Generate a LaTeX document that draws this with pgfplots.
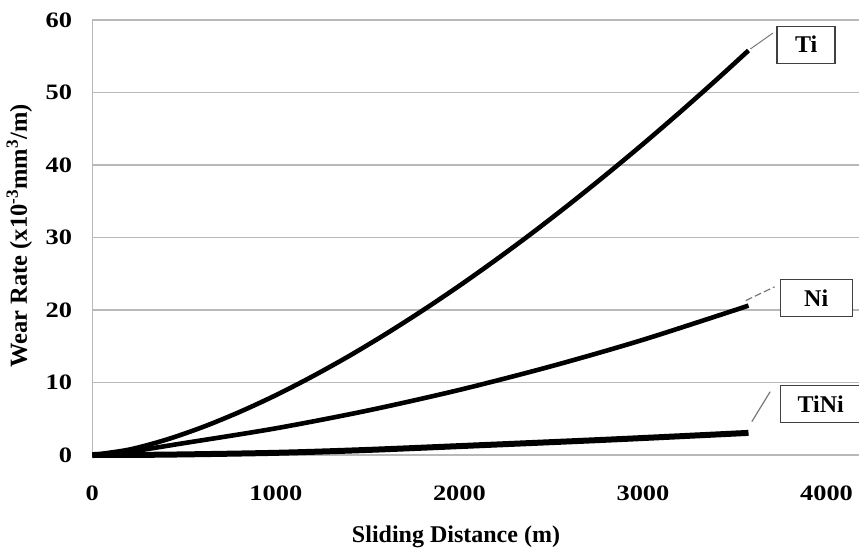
\documentclass[border=0pt]{standalone}
\usepackage{pgfplots}
\pgfplotsset{compat=1.18}
\usepackage{fontspec}
\setmainfont{Liberation Serif}
\newfontfamily\widefont{Liberation Serif}[FakeStretch=1.2]

\definecolor{gridgray}{RGB}{185,185,185}
\definecolor{leadgray}{RGB}{120,120,120}

% Cumulative wear rate against sliding distance
\pgfplotstableread{
x     y
0     0
200   0.74
400   2.09
600   3.84
800   5.91
1000  8.25
1200  10.85
1400  13.67
1600  16.71
1800  19.94
2000  23.35
2200  26.94
2400  30.69
2600  34.61
2800  38.68
3000  42.89
3200  47.25
3400  51.75
3575  55.8
}\tiTable

\pgfplotstableread{
x     y
0     0
200   0.45
500   1.64
1000  3.68
1500  6.13
2000  8.98
2500  12.24
3000  15.89
3575  20.6
}\niTable

\pgfplotstableread{
x     y
0     0
400   0.05
1000  0.3
1500  0.7
2113  1.35
2838  2.15
3575  3.05
}\tiniTable

\begin{document}
\begin{tikzpicture}
\path[use as bounding box, clip] (-92.3pt,-97pt) rectangle (766.7pt,455pt);
\begin{axis}[
  at={(0pt,0pt)}, anchor=south west,
  scale only axis,
  width=766.7pt, height=435pt,
  xmin=0, xmax=4177, ymin=0, ymax=60,
  xtick={0,1000,2000,3000,4000},
  ytick={0,10,20,30,40,50,60},
  axis x line*=bottom, axis y line*=left,
  axis line style={-, draw=gridgray, line width=1.4pt},
  ymajorgrids,
  grid style={draw=gridgray, line width=1.4pt},
  major tick length=0pt,
  tick style={draw=none},
  /pgf/number format/assume math mode=true,
  /pgf/number format/1000 sep={},
  xticklabel style={font=\widefont\bfseries\fontsize{22}{22}\selectfont, anchor=north, inner sep=0pt, yshift=-31pt},
  yticklabel style={font=\widefont\bfseries\fontsize{22}{22}\selectfont, anchor=east, inner sep=0pt, xshift=-20pt},
  clip=false,
]
\addplot[black, line width=4.6pt, smooth] table[x=x, y=y] {\tiTable};
\addplot[black, line width=4.6pt, smooth] table[x=x, y=y] {\niTable};
\addplot[black, line width=6pt, smooth] table[x=x, y=y] {\tiniTable};

% leader lines from curve ends to the labels
\draw[leadgray, line width=1pt] (axis cs:3585,56.0) -- (axis cs:3708,58.2);
\draw[leadgray, line width=1.2pt, dash pattern=on 7pt off 3pt] (axis cs:3560,21.3) -- (axis cs:3717,23.2);
\draw[leadgray, line width=1.2pt] (axis cs:3593,4.6) -- (axis cs:3693,8.73);

\tikzset{lbl/.style={draw=black!75, line width=1.3pt, fill=white, inner sep=0pt,
  minimum height=37pt, font=\bfseries\fontsize{24}{24}\selectfont}}
\node[lbl, minimum width=58pt] at (axis cs:3889,56.6) {Ti};
\node[lbl, minimum width=72pt] at (axis cs:3944,21.7) {Ni};
\node[lbl, minimum width=80pt, anchor=west] at (axis cs:3747,7.0) {TiNi};
\end{axis}

\node[font=\bfseries\fontsize{24}{24}\selectfont] at (363.7pt,-82pt) {Sliding Distance (m)};
\node[rotate=90, font=\bfseries\fontsize{24.5}{24.5}\selectfont] at (-73pt,219pt) {Wear Rate (x10\textsuperscript{-3}mm\textsuperscript{3}/m)};
\end{tikzpicture}
\end{document}
